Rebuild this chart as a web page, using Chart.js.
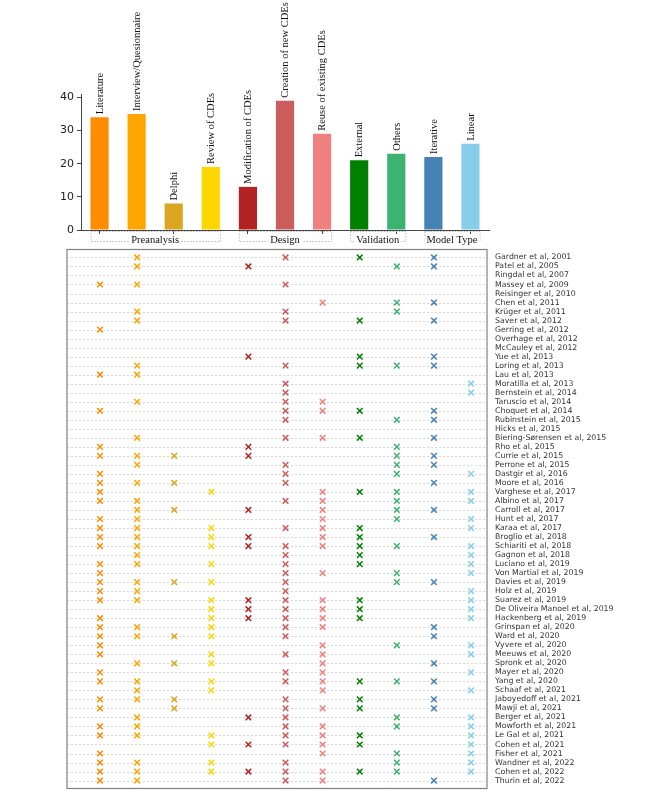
<!DOCTYPE html>
<html>
<head>
<meta charset="utf-8">
<script src="https://cdn.jsdelivr.net/npm/chart.js@4.4.0/dist/chart.umd.min.js"></script>
<style>
  body { margin: 0; background: #fff; }
  #wrap { position: relative; width: 662px; height: 794px; }
  canvas { position: absolute; left: 0; }
  #top { top: 0; }
  #grid { top: 244px; }
</style>
</head>
<body>
<div id="wrap">
  <canvas id="top" width="662" height="250"></canvas>
  <canvas id="grid" width="662" height="550"></canvas>
</div>
<script>
const methods = ["Literature", "Interview/Quesionnaire", "Delphi", "Review of CDEs",
  "Modification of CDEs", "Creation of new CDEs", "Reuse of existing CDEs",
  "External", "Others", "Iterative", "Linear"];
const counts = [34, 35, 8, 19, 13, 39, 29, 21, 23, 22, 26];
const colors = ["#ff8c00", "#ffa500", "#daa520", "#ffd700", "#b22222", "#cd5c5c",
  "#f08080", "#008000", "#3cb371", "#4682b4", "#87ceeb"];
const groups = ["Preanalysis", "Design", "Validation", "Model Type"];
const groupFirst = [0, 4, 7, 9];
const groupLast = [3, 6, 8, 10];
const yTicks = [0, 10, 20, 30, 40];

const papers = [
  "Gardner et al, 2001", "Patel et al, 2005", "Ringdal et al, 2007", "Massey et al, 2009",
  "Reisinger et al, 2010", "Chen et al, 2011", "Krüger et al, 2011", "Saver et al, 2012",
  "Gerring et al, 2012", "Overhage et al, 2012", "McCauley et al, 2012", "Yue et al, 2013",
  "Loring et al, 2013", "Lau et al, 2013", "Moratilla et al, 2013", "Bernstein et al, 2014",
  "Taruscio et al, 2014", "Choquet et al, 2014", "Rubinstein et al, 2015", "Hicks et al, 2015",
  "Biering-Sørensen et al, 2015", "Rho et al, 2015", "Currie et al, 2015", "Perrone et al, 2015",
  "Dastgir et al, 2016", "Moore et al, 2016", "Varghese et al, 2017", "Albino et al, 2017",
  "Carroll et al, 2017", "Hunt et al, 2017", "Karaa et al, 2017", "Broglio et al, 2018",
  "Schiariti et al, 2018", "Gagnon et al, 2018", "Luciano et al, 2019", "Von Martial et al, 2019",
  "Davies et al, 2019", "Holz et al, 2019", "Suarez et al, 2019", "De Oliveira Manoel et al, 2019",
  "Hackenberg et al, 2019", "Grinspan et al, 2020", "Ward et al, 2020", "Vyvere et al, 2020",
  "Meeuws et al, 2020", "Spronk et al, 2020", "Mayer et al, 2020", "Yang et al, 2020",
  "Schaaf et al, 2021", "Jaboyedoff et al, 2021", "Mawji et al, 2021", "Berger et al, 2021",
  "Mowforth et al, 2021", "Le Gal et al, 2021", "Cohen et al, 2021", "Fisher et al, 2021",
  "Wandner et al, 2022", "Cohen et al, 2022", "Thurin et al, 2022"
];

// method indices used by each paper (same order as papers)
const paperMethods = [
  [1, 5, 7, 9], [1, 4, 8, 9], [], [0, 1, 5],
  [], [6, 8, 9], [1, 5, 8], [1, 5, 7, 9],
  [0], [], [], [4, 7, 9],
  [1, 5, 7, 8, 9], [0, 1], [5, 10], [5, 10],
  [1, 5, 6], [0, 5, 6, 7, 9], [5, 8, 9], [],
  [1, 5, 6, 7, 9], [0, 4, 8], [0, 1, 2, 4, 8, 9], [1, 5, 8, 9],
  [0, 5, 8, 10], [0, 1, 2, 5, 9], [0, 3, 6, 7, 8, 10], [0, 1, 5, 6, 8, 10],
  [1, 2, 4, 6, 8, 9], [0, 1, 6, 8, 10], [0, 1, 3, 5, 6, 7, 10], [0, 1, 3, 4, 6, 7, 9],
  [0, 1, 3, 4, 5, 6, 7, 8, 10], [1, 5, 7, 10], [0, 1, 3, 5, 7, 10], [0, 5, 6, 8, 10],
  [0, 1, 2, 3, 5, 8, 9], [0, 1, 5, 10], [0, 1, 3, 4, 5, 6, 7, 10], [3, 4, 5, 6, 7, 10],
  [0, 3, 4, 5, 6, 7, 10], [0, 1, 3, 5, 6, 9], [0, 1, 2, 3, 5, 9], [0, 6, 8, 10],
  [0, 3, 5, 6, 10], [1, 2, 3, 6, 9], [0, 5, 6, 10], [0, 1, 3, 5, 6, 7, 8, 9],
  [1, 3, 6, 10], [0, 1, 2, 5, 7, 9], [0, 2, 5, 6, 7, 9], [1, 4, 5, 8, 10],
  [0, 1, 5, 6, 8, 10], [0, 1, 3, 5, 6, 7, 10], [3, 4, 5, 6, 7, 10], [0, 6, 8, 10],
  [0, 1, 3, 5, 8, 10], [0, 1, 3, 4, 5, 6, 7, 8, 10], [0, 1, 5, 6, 9]
];

const serif = "'Liberation Serif', 'Times New Roman', serif";
const sans = "'DejaVu Sans', sans-serif";

// rotated labels over the bars + dotted group boxes under the axis
const barDecor = {
  id: "barDecor",
  afterDatasetsDraw(chart) {
    const ctx = chart.ctx;
    const bars = chart.getDatasetMeta(0).data;
    const bottom = chart.chartArea.bottom;
    ctx.save();
    ctx.font = "10.5px " + serif;
    ctx.fillStyle = "#111";
    ctx.textAlign = "left";
    ctx.textBaseline = "middle";
    bars.forEach((bar, i) => {
      ctx.save();
      ctx.translate(bar.x + 0.5, bar.y - 3);
      ctx.rotate(-Math.PI / 2);
      ctx.fillText(methods[i], 0, 0);
      ctx.restore();
    });

    groups.forEach((g, k) => {
      const a = bars[groupFirst[k]], b = bars[groupLast[k]];
      const x0 = a.x - a.width / 2, x1 = b.x + b.width / 2;
      const y0 = bottom + 1, y1 = bottom + 11;
      ctx.setLineDash([1.5, 1.5]);
      ctx.strokeStyle = "#aaa";
      ctx.lineWidth = 0.8;
      ctx.strokeRect(x0 + 0.5, y0 + 0.5, x1 - x0, y1 - y0);
      ctx.setLineDash([]);
      const tw = ctx.measureText(g).width;
      const cx = (x0 + x1) / 2;
      ctx.fillStyle = "#fff";
      ctx.fillRect(cx - tw / 2 - 2, y1 - 5, tw + 4, 10);
      ctx.fillStyle = "#111";
      ctx.textAlign = "center";
      ctx.fillText(g, cx, y1 - 1);
    });
    ctx.restore();
  }
};

new Chart(document.getElementById("top"), {
  type: "bar",
  data: {
    labels: methods,
    datasets: [{
      data: counts,
      backgroundColor: colors,
      borderWidth: 0,
      barPercentage: 0.49,
      categoryPercentage: 1
    }]
  },
  options: {
    responsive: false,
    animation: false,
    devicePixelRatio: 1,
    layout: { padding: { top: 94, right: 173, bottom: 0, left: 0 } },
    plugins: { legend: { display: false }, tooltip: { enabled: false } },
    scales: {
      x: {
        afterFit: (s) => { s.height = 20; },
        ticks: { display: false },
        grid: {
          offset: false,
          drawOnChartArea: false,
          drawTicks: true,
          tickLength: 4,
          color: (c) => (c.index % 2 === 0 ? "#444" : "rgba(0,0,0,0)")
        },
        border: { display: true, color: "#444", width: 1 }
      },
      y: {
        min: 0,
        max: 41,
        afterFit: (s) => { s.width = 81; },
        afterBuildTicks: (s) => { s.ticks = yTicks.map((v) => ({ value: v })); },
        ticks: { color: "#222", font: { family: sans, size: 11 }, padding: 3 },
        grid: { drawOnChartArea: false, drawTicks: true, tickLength: 4, color: "#444" },
        border: { display: true, color: "#444", width: 1 }
      }
    }
  },
  plugins: [barDecor]
});

// dashed row guides + frame for the paper matrix
const rowGuides = {
  id: "rowGuides",
  beforeDatasetsDraw(chart) {
    const ctx = chart.ctx;
    const { left, right } = chart.chartArea;
    const ys = chart.scales.y;
    ctx.save();
    ctx.strokeStyle = "#cfcfcf";
    ctx.lineWidth = 0.8;
    ctx.setLineDash([2.2, 1.8]);
    papers.forEach((p, i) => {
      const y = Math.round(ys.getPixelForValue(i)) + 0.5;
      ctx.beginPath();
      ctx.moveTo(left, y);
      ctx.lineTo(right, y);
      ctx.stroke();
    });
    ctx.restore();
  },
  afterDatasetsDraw(chart) {
    const ctx = chart.ctx;
    const { left, right, top, bottom } = chart.chartArea;
    ctx.save();
    ctx.strokeStyle = "#808080";
    ctx.lineWidth = 1.2;
    ctx.strokeRect(left, top, right - left, bottom - top);
    ctx.restore();
  }
};

const matrixSets = methods.map((m, j) => ({
  label: m,
  data: papers.map((p, i) => (paperMethods[i].includes(j) ? { x: j, y: i } : null)).filter(Boolean),
  pointStyle: "crossRot",
  pointRadius: 4,
  borderWidth: 1.5,
  borderColor: colors[j],
  backgroundColor: colors[j]
}));

new Chart(document.getElementById("grid"), {
  type: "scatter",
  data: { datasets: matrixSets },
  options: {
    responsive: false,
    animation: false,
    devicePixelRatio: 1,
    layout: { padding: { top: 4, right: 0, bottom: 5, left: 67 } },
    plugins: { legend: { display: false }, tooltip: { enabled: false } },
    scales: {
      x: { type: "linear", min: -0.89, max: 10.43, display: false },
      y: {
        type: "linear",
        position: "right",
        reverse: true,
        min: -0.88,
        max: 58.88,
        afterFit: (s) => { s.width = 175; s.paddingTop = 0; s.paddingBottom = 0; },
        afterBuildTicks: (s) => { s.ticks = papers.map((p, i) => ({ value: i })); },
        ticks: {
          autoSkip: false,
          padding: 8,
          color: "#333",
          font: { family: sans, size: 7.8 },
          callback: (v) => papers[v]
        },
        grid: { display: false, drawTicks: false },
        border: { display: false }
      }
    }
  },
  plugins: [rowGuides]
});
</script>
</body>
</html>
